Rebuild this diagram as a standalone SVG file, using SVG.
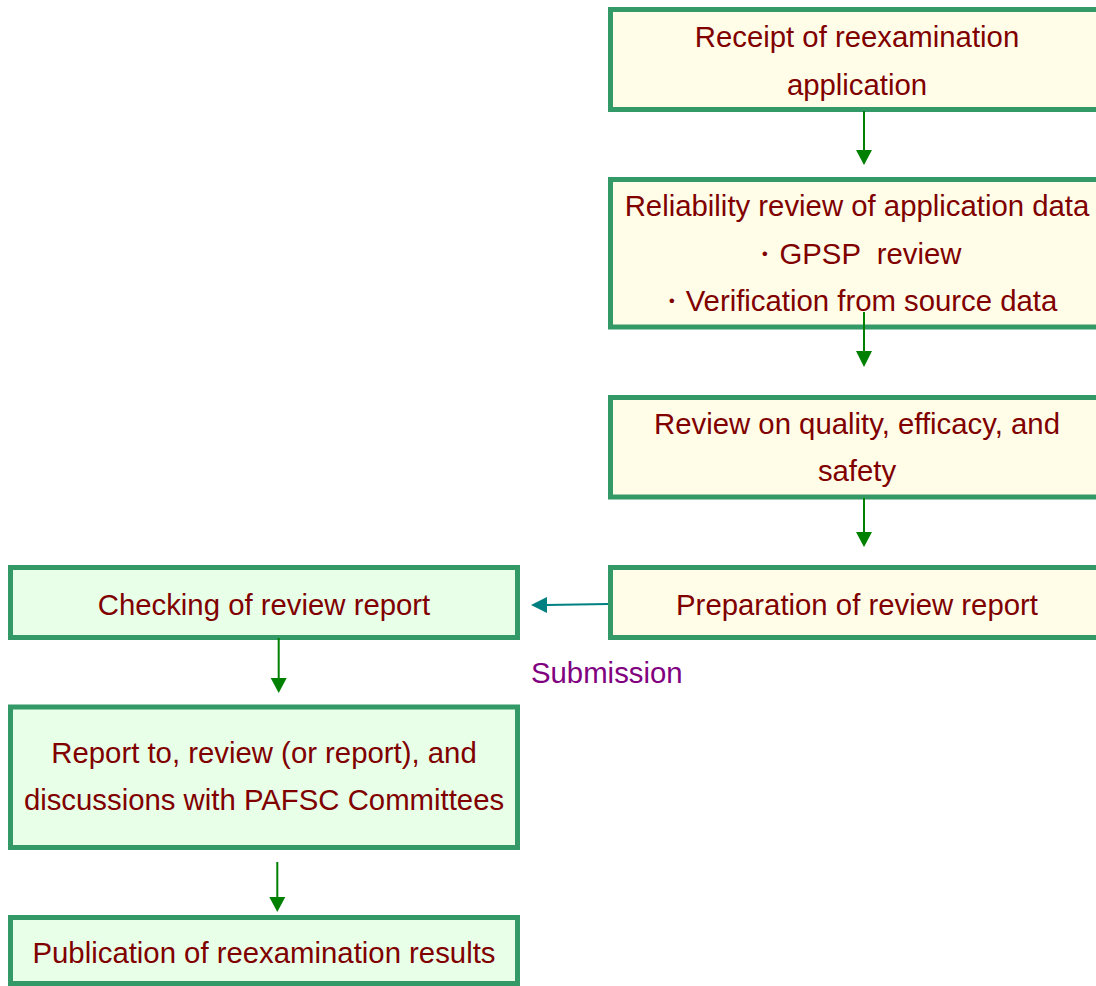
<svg xmlns="http://www.w3.org/2000/svg" width="1096" height="986" viewBox="0 0 1096 986">
<style>
.r{fill:#FFFDE8;stroke:#339966;stroke-width:5}
.l{fill:#E8FFE8;stroke:#339966;stroke-width:5}
text{font-family:"Liberation Sans",Arial,sans-serif;font-size:29.33px;fill:#800000;text-anchor:middle;white-space:pre}
.sub{fill:#800080;text-anchor:start}
.g{stroke:#008000;stroke-width:2;fill:none}
.ga{fill:#008000}
.t{stroke:#008080;stroke-width:2;fill:none}
.ta{fill:#008080}
</style>
<rect width="1096" height="986" fill="#ffffff"/>
<g id="n1"><rect class="r" x="610.5" y="9.5" width="500" height="100"/><text x="857" y="47">Receipt of reexamination</text><text x="857" y="95">application</text></g>
<g id="n2"><rect class="r" x="610.5" y="179.5" width="500" height="147.5"/><text x="856" y="264" xml:space="preserve">・GPSP  review</text><text x="857" y="216">Reliability review of application data</text><text x="857" y="311">・Verification from source data</text></g>
<g id="n3"><rect class="r" x="610.5" y="397.5" width="500" height="99.5"/><text x="857" y="434">Review on quality, efficacy, and</text><text x="857" y="481">safety</text></g>
<g id="n4"><rect class="r" x="610.5" y="567.5" width="500" height="70"/><text x="857" y="615">Preparation of review report</text></g>
<g id="n5"><rect class="l" x="10.5" y="567.5" width="507" height="70"/><text x="264" y="615">Checking of review report</text></g>
<g id="n6"><rect class="l" x="10.5" y="707" width="507" height="140.5"/><text x="264" y="763">Report to, review (or report), and</text><text x="264" y="810">discussions with PAFSC Committees</text></g>
<g id="n7"><rect class="l" x="10.5" y="917.5" width="507" height="66"/><text x="264" y="963">Publication of reexamination results</text></g>
<text class="sub" x="531" y="683">Submission</text>
<g id="connectors">
<line class="g" x1="864" y1="111" x2="864" y2="151"/><polygon class="ga" points="856,150 872,150 864,165"/>
<line class="g" x1="864" y1="312" x2="864" y2="352"/><polygon class="ga" points="856,351 872,351 864,367"/>
<line class="g" x1="864" y1="498" x2="864" y2="533"/><polygon class="ga" points="856,532 872,532 864,547"/>
<line class="t" x1="608" y1="604" x2="546" y2="605"/><polygon class="ta" points="531,605 547,597 547,613"/>
<line class="g" x1="278.7" y1="638" x2="278.7" y2="679"/><polygon class="ga" points="270.7,678 286.7,678 278.7,693"/>
<line class="g" x1="277.3" y1="862" x2="277.3" y2="898"/><polygon class="ga" points="269.3,897 285.3,897 277.3,912"/>
</g>
</svg>
